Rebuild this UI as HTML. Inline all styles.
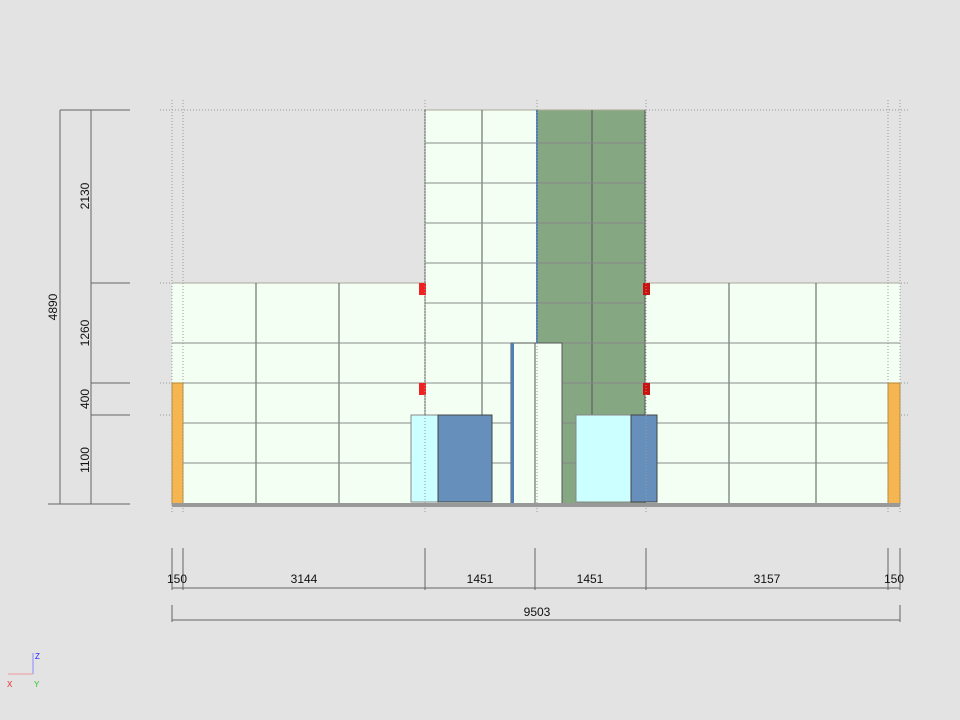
<!DOCTYPE html><html><head><style>body{margin:0;background:#e3e3e3}svg{display:block}text{font-family:"Liberation Sans",sans-serif;font-size:12px;fill:#111}</style></head><body>
<svg width="960" height="720" xmlns="http://www.w3.org/2000/svg">
<rect width="960" height="720" fill="#e3e3e3"/>
<g stroke="#999" stroke-dasharray="1,2" stroke-width="1">
<line x1="160" y1="110" x2="910" y2="110"/><line x1="160" y1="283" x2="910" y2="283"/><line x1="160" y1="383" x2="910" y2="383"/><line x1="160" y1="415" x2="910" y2="415"/>
</g>
<!-- walls -->
<rect x="172" y="283" width="253" height="221" fill="#f4fff4"/>
<rect x="645" y="283" width="255" height="221" fill="#f4fff4"/>
<rect x="425" y="110" width="112" height="394" fill="#f4fff4"/>
<rect x="537" y="110" width="108" height="394" fill="#85a882"/>
<g stroke="#555" stroke-width="1">
<line x1="172" y1="283" x2="425" y2="283" stroke="#aa9"/><line x1="645" y1="283" x2="900" y2="283" stroke="#aa9"/>
<line x1="425" y1="110" x2="645" y2="110" stroke="#aa9"/>
<line x1="256" y1="283" x2="256" y2="504"/><line x1="339" y1="283" x2="339" y2="504"/>
<line x1="729" y1="283" x2="729" y2="504"/><line x1="816" y1="283" x2="816" y2="504"/>
<line x1="482" y1="110" x2="482" y2="415"/><line x1="592" y1="110" x2="592" y2="415"/>
<line x1="425" y1="110" x2="425" y2="504"/><line x1="537" y1="110" x2="537" y2="504"/><line x1="645" y1="110" x2="645" y2="504"/>
</g>
<g stroke="#888" stroke-width="1">
<line x1="425" y1="143" x2="645" y2="143"/><line x1="425" y1="183" x2="645" y2="183"/><line x1="425" y1="223" x2="645" y2="223"/><line x1="425" y1="263" x2="645" y2="263"/><line x1="425" y1="303" x2="645" y2="303"/>
<line x1="172" y1="343" x2="900" y2="343"/><line x1="172" y1="383" x2="900" y2="383"/><line x1="172" y1="423" x2="900" y2="423"/><line x1="172" y1="463" x2="900" y2="463"/>
</g>
<!-- door -->
<rect x="511" y="343" width="51" height="161" fill="#f4fff4" stroke="#555"/>
<rect x="511" y="343" width="3" height="161" fill="#4f7fb5"/>
<line x1="535" y1="343" x2="535" y2="504" stroke="#555"/>
<rect x="536" y="110" width="2" height="233" fill="#4f7fb5"/>
<!-- windows -->
<rect x="411" y="415" width="27" height="87" fill="#ccffff" stroke="#888"/>
<rect x="438" y="415" width="54" height="87" fill="#6690bb" stroke="#444"/>
<rect x="576" y="415" width="55" height="87" fill="#ccffff" stroke="#888"/>
<rect x="631" y="415" width="26" height="87" fill="#6690bb" stroke="#444"/>
<!-- orange -->
<rect x="172" y="383" width="11" height="121" fill="#f5b550" stroke="#b8862c"/>
<rect x="888" y="383" width="12" height="121" fill="#f5b550" stroke="#b8862c"/>
<!-- red -->
<rect x="419" y="283" width="7" height="12" fill="#e22"/><rect x="419" y="383" width="7" height="12" fill="#e22"/>
<rect x="643" y="283" width="7" height="12" fill="#c11"/><rect x="643" y="383" width="7" height="12" fill="#c11"/>
<rect x="172" y="503" width="728" height="4" fill="#999"/>
<g stroke="#999" stroke-dasharray="1,2">
<line x1="172" y1="100" x2="172" y2="512"/><line x1="183" y1="100" x2="183" y2="512"/><line x1="425" y1="100" x2="425" y2="512"/><line x1="537" y1="100" x2="537" y2="512"/><line x1="646" y1="100" x2="646" y2="512"/><line x1="888" y1="100" x2="888" y2="512"/><line x1="900" y1="100" x2="900" y2="512"/>
</g>
<!-- left dims -->
<g stroke="#666">
<line x1="60" y1="110" x2="60" y2="504"/><line x1="91" y1="110" x2="91" y2="504"/>
<line x1="60" y1="110" x2="130" y2="110"/><line x1="91" y1="283" x2="130" y2="283"/><line x1="91" y1="383" x2="130" y2="383"/><line x1="91" y1="415" x2="130" y2="415"/><line x1="48" y1="504" x2="130" y2="504"/>
</g>
<text transform="translate(57,307) rotate(-90)" text-anchor="middle">4890</text>
<text transform="translate(89,196) rotate(-90)" text-anchor="middle">2130</text>
<text transform="translate(89,333) rotate(-90)" text-anchor="middle">1260</text>
<text transform="translate(89,399) rotate(-90)" text-anchor="middle">400</text>
<text transform="translate(89,460) rotate(-90)" text-anchor="middle">1100</text>
<!-- bottom dims -->
<g stroke="#666">
<line x1="172" y1="588" x2="900" y2="588"/>
<line x1="172" y1="548" x2="172" y2="590"/><line x1="183" y1="548" x2="183" y2="590"/><line x1="425" y1="548" x2="425" y2="590"/><line x1="535" y1="548" x2="535" y2="590"/><line x1="646" y1="548" x2="646" y2="590"/><line x1="888" y1="548" x2="888" y2="590"/><line x1="900" y1="548" x2="900" y2="590"/>
<line x1="172" y1="620" x2="900" y2="620"/><line x1="172" y1="605" x2="172" y2="622"/><line x1="900" y1="605" x2="900" y2="622"/>
</g>
<text x="177" y="583" text-anchor="middle">150</text><text x="304" y="583" text-anchor="middle">3144</text><text x="480" y="583" text-anchor="middle">1451</text><text x="590" y="583" text-anchor="middle">1451</text><text x="767" y="583" text-anchor="middle">3157</text><text x="894" y="583" text-anchor="middle">150</text>
<text x="537" y="616" text-anchor="middle">9503</text>
<!-- axes -->
<line x1="33" y1="653" x2="33" y2="674" stroke="#88f"/><line x1="8" y1="674" x2="33" y2="674" stroke="#e99"/>
<text x="35" y="659" style="font-size:8px;fill:#22f">Z</text><text x="7" y="687" style="font-size:8px;fill:#e22">X</text><text x="34" y="687" style="font-size:8px;fill:#2c2">Y</text>
</svg></body></html>
